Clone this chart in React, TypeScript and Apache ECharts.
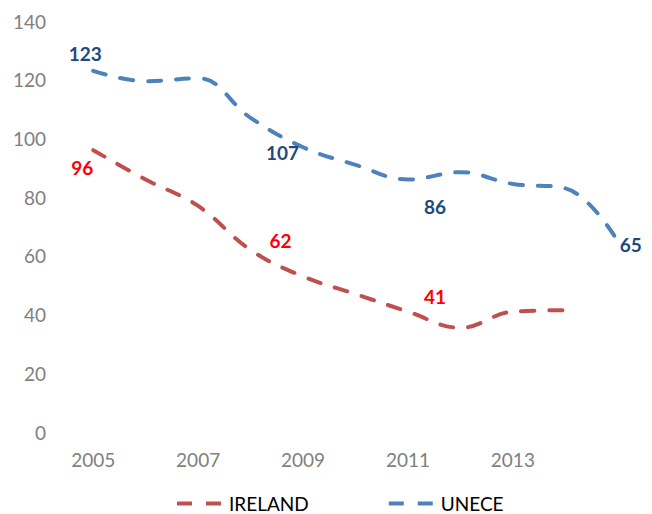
import React, { useEffect, useRef } from "react";
import * as echarts from "echarts";

const years = ["2005", "2006", "2007", "2008", "2009", "2010", "2011", "2012", "2013", "2014", "2015"];
const xTickLabels = ["2005", "2007", "2009", "2011", "2013"];
const yTicks = { min: 0, max: 140, interval: 20 };
const irelandValues: (number | null)[] = [96, 86, 77, 62, 53, 47, 41, 35.5, 41, 41.5, null];
const uneceValues: (number | null)[] = [123, 119.5, 120.5, 107, 97, 91, 86, 88.5, 84.5, 83, 65];
// data labels: [index, text, offsetX, offsetY]
const irelandLabels: [number, string, number, number][] = [
  [0, "96", -11, 17],
  [3, "62", 30, -9],
  [6, "41", 27, -15],
];
const uneceLabels: [number, string, number, number][] = [
  [0, "123", -8, -17],
  [3, "107", 32, 35],
  [6, "86", 27, 27],
  [10, "65", 13, 3],
];

const FONT = "Lato, 'Open Sans', sans-serif";

function buildData(values: (number | null)[], labels: [number, string, number, number][], color: string) {
  return values.map((v, i) => {
    const lab = labels.find((l) => l[0] === i);
    if (!lab) return v;
    return {
      value: v,
      label: {
        show: true,
        position: "inside",
        formatter: lab[1],
        offset: [lab[2], lab[3]],
        color,
        opacity: 1,
        fontFamily: FONT,
        fontWeight: "bold",
        fontSize: 19,
      },
    };
  });
}

function lineSeries(name: string, color: string, values: (number | null)[], labels: [number, string, number, number][], labelColor: string) {
  return {
    name,
    type: "line",
    smooth: 0.4,
    symbol: "circle",
    symbolSize: 1,
    showSymbol: true,
    color,
    itemStyle: { color: "rgba(0,0,0,0)", borderWidth: 0 },
    lineStyle: { color, width: 4, type: [13, 15], cap: "round" },
    label: { show: false },
    data: buildData(values, labels, labelColor),
  };
}

export default function App() {
  const ref = useRef<HTMLDivElement>(null);
  useEffect(() => {
    if (!ref.current) return;
    const chart = echarts.init(ref.current, undefined, { renderer: "svg" });
    chart.setOption({
      animation: false,
      grid: { left: 67, right: 8, top: 21, bottom: 82 },
      legend: {
        left: 170,
        top: 489,
        itemWidth: 45,
        itemHeight: 14,
        itemGap: 78,
        itemStyle: { opacity: 0 },
        lineStyle: { type: [15, 14], cap: "butt", width: 4 },
        textStyle: { fontFamily: FONT, fontSize: 19, color: "#000", padding: [0, 0, 0, 2] },
        data: ["IRELAND", "UNECE"],
      },
      xAxis: {
        type: "category",
        data: years,
        boundaryGap: true,
        axisLine: { show: false },
        axisTick: { show: false },
        splitLine: { show: false },
        axisLabel: {
          interval: (_i: number, value: string) => xTickLabels.includes(value),
          color: "#808080",
          fontFamily: FONT,
          fontSize: 19,
          margin: 18,
        },
      },
      yAxis: {
        type: "value",
        min: yTicks.min,
        max: yTicks.max,
        interval: yTicks.interval,
        axisLine: { show: false },
        axisTick: { show: false },
        splitLine: { show: false },
        axisLabel: { color: "#808080", fontFamily: FONT, fontSize: 19, margin: 21 },
      },
      series: [
        lineSeries("IRELAND", "#C0504D", irelandValues, irelandLabels, "#FF0000"),
        lineSeries("UNECE", "#4F81BD", uneceValues, uneceLabels, "#1F497D"),
      ],
    });
    return () => chart.dispose();
  }, []);
  return <div ref={ref} style={{ position: "absolute", left: 0, top: 0, width: 652, height: 514 }} />;
}
